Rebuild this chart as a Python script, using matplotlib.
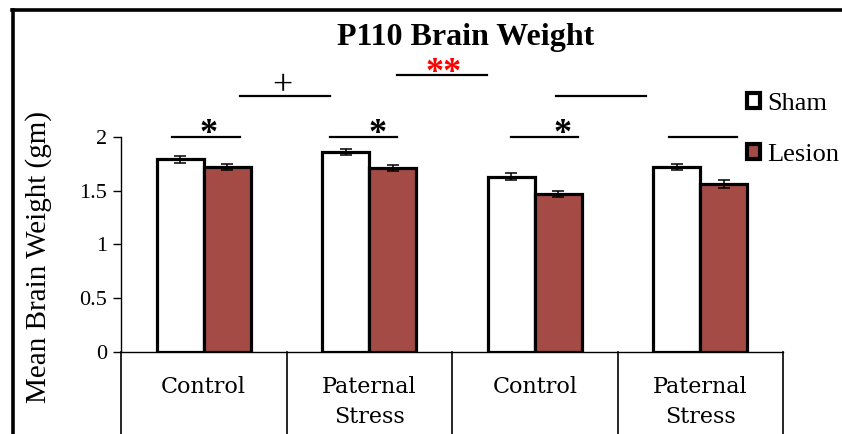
import matplotlib
matplotlib.use("Agg")
import matplotlib.pyplot as plt
from matplotlib.patches import Patch
from matplotlib.lines import Line2D
import numpy as np

# Group labels and measured means / errors
groups = ["Control", "Paternal\nStress", "Control", "Paternal\nStress"]
sham_mean = [1.79, 1.86, 1.63, 1.72]
sham_err = [0.03, 0.03, 0.035, 0.03]
lesion_mean = [1.72, 1.71, 1.47, 1.56]
lesion_err = [0.03, 0.025, 0.03, 0.04]

# Significance lines: (x start, x end, height, label, label x, colour)
brackets = [
    (-0.19, 0.22, 2.0, "*", 0.03, "black"),
    (0.76, 1.17, 2.0, "*", 1.05, "black"),
    (1.855, 2.26, 2.0, "*", 2.17, "black"),
    (2.81, 3.22, 2.0, "", None, "black"),
    (0.22, 0.76, 2.38, "+", 0.476, "black"),
    (1.17, 1.71, 2.57, "**", 1.45, "red"),
    (2.13, 2.67, 2.38, "", None, "black"),
]

SERIF = "Liberation Serif"
LESION_COLOR = "#A54B45"

fig = plt.figure(figsize=(8.42, 4.34), dpi=100)
ax = fig.add_axes([121 / 842, 82 / 434, 662 / 842, 323 / 434])

x = np.arange(len(groups))
w = 0.283
ebar = dict(ecolor="black", elinewidth=1.1, capsize=4.5, capthick=1.1)
ax.bar(x - w / 2, sham_mean, w, color="white", edgecolor="black", linewidth=2.3,
       yerr=sham_err, error_kw=ebar, zorder=3)
ax.bar(x + w / 2, lesion_mean, w, color=LESION_COLOR, edgecolor="black", linewidth=2.3,
       yerr=lesion_err, error_kw=ebar, zorder=3)

ax.set_xlim(-0.5, 3.5)
ax.set_ylim(0, 3.0)
ax.set_yticks([0, 0.5, 1, 1.5, 2])
ax.set_yticklabels(["0", "0.5", "1", "1.5", "2"], fontfamily=SERIF, fontsize=16)
ax.tick_params(axis="y", direction="out", length=6, width=1, pad=4)
ax.set_xticks([])
for s in ["top", "right"]:
    ax.spines[s].set_visible(False)
ax.spines["left"].set_bounds(0, 2)
ax.spines["left"].set_linewidth(1)
ax.spines["bottom"].set_linewidth(1)

# category table below the axis
xt = ax.get_xaxis_transform()
for b in np.arange(-0.5, 4.0, 1.0):
    ax.plot([b, b], [0, -0.4], color="black", lw=1.2, transform=xt, clip_on=False)
for i, g in enumerate(groups):
    ax.text(i, -0.075, g, transform=xt, ha="center", va="top", fontsize=16,
            fontfamily="DejaVu Serif", linespacing=1.45)

ax.set_ylabel("Mean Brain Weight (gm)", fontfamily=SERIF, fontsize=21)
ax.yaxis.set_label_coords(-0.104, 0.294)

# significance lines and markers
for x0, x1, h, lab, lx, col in brackets:
    ax.plot([x0, x1], [h, h], color="black", lw=1.6, clip_on=False)
    if lab == "+":
        ax.text(lx, h + 0.005, lab, ha="center", va="baseline", color=col,
                fontsize=26, fontfamily=SERIF)
    elif lab:
        ax.text(lx, h - 0.06, lab, ha="center", va="baseline", color=col,
                fontsize=26, fontweight="bold", fontfamily=SERIF)

# legend
handles = [Patch(facecolor="white", edgecolor="black", linewidth=3, label="Sham"),
           Patch(facecolor=LESION_COLOR, edgecolor="black", linewidth=3, label="Lesion")]
fig.legend(handles=handles, loc="upper left", bbox_to_anchor=(747 / 842, 1 - 93 / 434),
           frameon=False, handlelength=0.5, handleheight=0.5, handletextpad=0.25,
           labelspacing=1.1, prop=dict(family=SERIF, size=19), borderpad=0, borderaxespad=0)

fig.text(466 / 842, 1 - 37 / 434, "P110 Brain Weight", ha="center", va="center",
         fontsize=23, fontweight="bold", fontfamily=SERIF)

# outer frame (left and top edges)
fig.add_artist(Line2D([13 / 842, 13 / 842], [0, 1 - 10 / 434], color="black", lw=2.6,
                      transform=fig.transFigure))
fig.add_artist(Line2D([12 / 842, 1], [1 - 10 / 434, 1 - 10 / 434], color="black", lw=2.6,
                      transform=fig.transFigure))

fig.savefig("out.png", dpi=100)
